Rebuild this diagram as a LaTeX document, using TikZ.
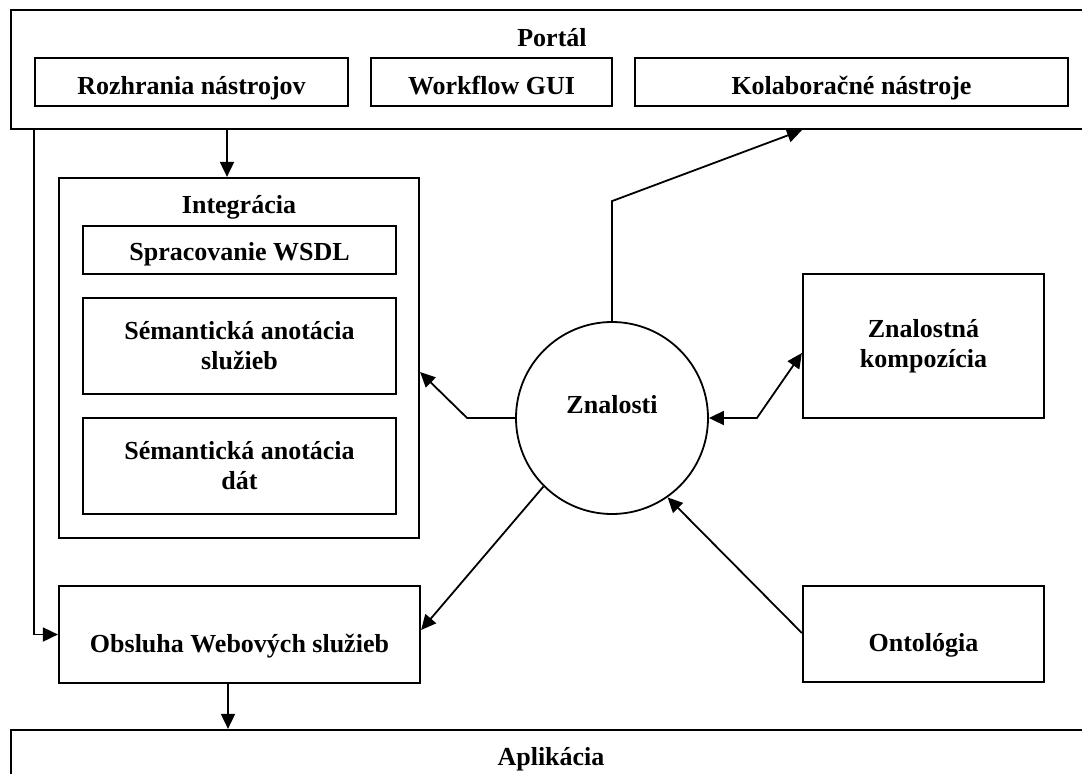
\documentclass[tikz,border=0pt]{standalone}
\usepackage{fontspec}
\setmainfont{Liberation Serif}
\usetikzlibrary{arrows.meta}

\begin{document}
\begin{tikzpicture}[x=1pt,y=-1pt,>={Triangle[length=15pt,width=14pt]},box/.style={draw,line width=2.2pt,inner sep=0pt,align=center,font=\bfseries\fontsize{26}{30}\selectfont},lowtext/.style={text height=#1,text depth=0pt},title/.style={anchor=base,inner sep=0pt,font=\bfseries\fontsize{26}{30}\selectfont},arrow/.style={->,line width=1.8pt},link/.style={line width=1.8pt}]
\useasboundingbox (0,0) rectangle (1082,774); \clip (0,0) rectangle (1082,774);
% portal with its tools
\node[box,minimum width=1082pt,minimum height=119pt] (portal) at (552,69.5) {}; \node[title] (portaltitle) at (552,46) {Portál};
\node[box,lowtext=24pt,minimum width=313pt,minimum height=48pt] (rozhrania) at (191.5,82) {Rozhrania nástrojov};
\node[box,lowtext=24pt,minimum width=241pt,minimum height=48pt] (workflow) at (491.5,82) {Workflow GUI};
\node[box,lowtext=24pt,minimum width=433pt,minimum height=48pt] (kolab) at (851.5,82) {Kolaboračné nástroje};
% integration block
\node[box,minimum width=360pt,minimum height=360pt] (integracia) at (239,358) {}; \node[title] (integraciatitle) at (239,213) {Integrácia};
\node[box,lowtext=21pt,minimum width=313pt,minimum height=48pt] (spracovanie) at (239.5,250) {Spracovanie WSDL};
\node[box,minimum width=313pt,minimum height=96pt] (semsluzby) at (239.5,346) {Sémantická anotácia\\služieb};
\node[box,minimum width=313pt,minimum height=96pt] (semdat) at (239.5,466) {Sémantická anotácia\\dát};
\node[box,lowtext=36pt,minimum width=361pt,minimum height=97pt] (obsluha) at (239.5,634.5) {Obsluha Webových služieb};
% knowledge and its neighbours
\node[box,circle,line width=1.8pt,text height=0pt,text depth=10pt,minimum size=192pt] (znalosti) at (612,418) {Znalosti};
\node[box,minimum width=241pt,minimum height=144pt] (kompozicia) at (923.5,346) {Znalostná\\kompozícia};
\node[box,lowtext=35pt,minimum width=241pt,minimum height=96pt] (ontologia) at (923.5,634) {Ontológia};
\node[box,minimum width=1082pt,minimum height=130pt] (aplikacia) at (552,795) {}; \node[title] (aplikaciatitle) at (551,765) {Aplikácia};
% connectors
\draw[arrow] (portal.south -| rozhrania.west) |- (obsluha.west);
\draw[arrow] (227,0 |- portal.south) -- (227,0 |- integracia.north);
\draw[arrow] (228,0 |- obsluha.south) -- (228,0 |- aplikacia.north);
\draw[arrow] (znalosti.north) -- ++(0,-120) -- (802,0 |- portal.south);
\draw[arrow] (znalosti.west) -- ++(-48,0) -- (integracia.east |- 0,372);
\draw[<->,link] (znalosti.east) -- ++(48,0) -- (kompozicia.west |- 0,353);
\draw[arrow] (znalosti.225) -- (obsluha.east |- 0,630);
\draw[arrow] (ontologia.west |- 0,633) -- (znalosti.305);
\end{tikzpicture}
\end{document}
